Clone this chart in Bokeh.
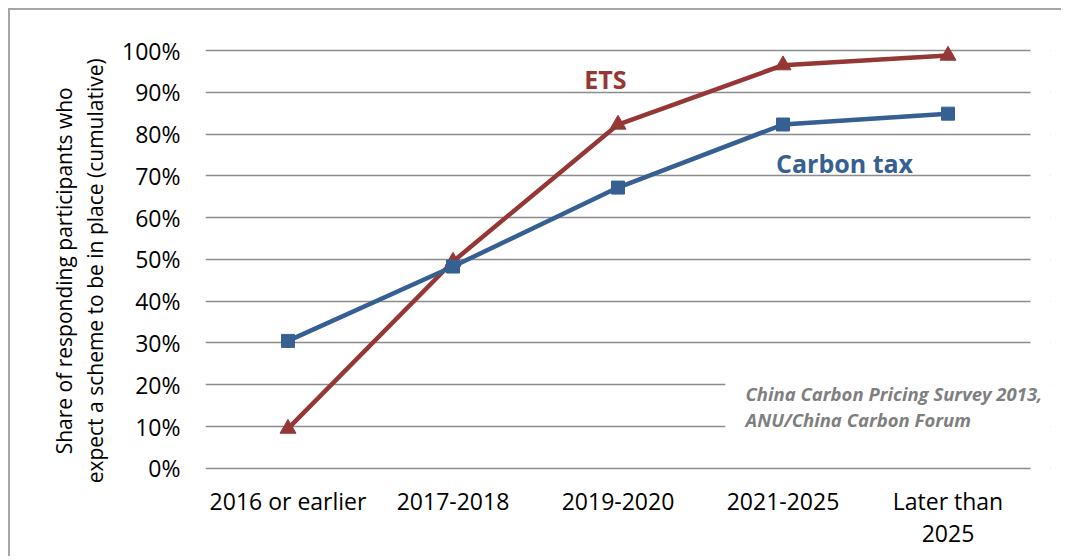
from bokeh.plotting import figure
from bokeh.models import Range1d, FixedTicker, NumeralTickFormatter, Label, BoxAnnotation
from bokeh.embed import file_html
from bokeh.resources import INLINE

categories = ["2016 or earlier", "2017-2018", "2019-2020", "2021-2025", "Later than\n2025"]
ets = [0.095, 0.495, 0.823, 0.965, 0.988]
carbon_tax = [0.305, 0.483, 0.672, 0.823, 0.849]
y_ticks = [0.0, 0.1, 0.2, 0.3, 0.4, 0.5, 0.6, 0.7, 0.8, 0.9, 1.0]

ETS_COLOR = "#953735"
TAX_COLOR = "#376092"
FONT = "Open Sans"
NB = "\u00a0" * 8  # trailing pad so the rotated title sits lower, as in the original

xs = list(range(len(categories)))
n = len(categories)

p = figure(width=1053, height=548, output_backend="svg", toolbar_location=None,
           x_range=Range1d(-0.5, n - 0.5 + 20 / 165), y_range=Range1d(-0.01, 1.06),
           min_border_left=195, min_border_right=13, min_border_top=15, min_border_bottom=86)
p.styles = {"margin-left": "8px", "margin-top": "8px",
            "border-top": "2px solid #a6a6a6", "border-left": "2px solid #a6a6a6"}
p.outline_line_color = None
p.background_fill_color = "white"
p.border_fill_color = "white"

# axes
p.xaxis.ticker = FixedTicker(ticks=xs)
p.xaxis.major_label_overrides = {i: c for i, c in zip(xs, categories)}
p.yaxis.ticker = FixedTicker(ticks=y_ticks)
p.yaxis.formatter = NumeralTickFormatter(format="0%")
for ax in (p.xaxis[0], p.yaxis[0]):
    ax.axis_line_color = None
    ax.major_tick_line_color = None
    ax.minor_tick_line_color = None
    ax.major_tick_out = 0
    ax.major_tick_in = 0
    ax.major_label_text_font = FONT
    ax.major_label_text_font_size = "23px"
    ax.major_label_text_color = "black"
    ax.major_label_text_line_height = 1.0
p.yaxis.major_label_standoff = 25
p.xaxis.major_label_standoff = 12
p.yaxis.axis_label = ("Share of responding participants who" + NB + "\n"
                      "expect a scheme to be in place (cumulative)" + NB)
p.yaxis.axis_label_text_font = FONT
p.yaxis.axis_label_text_font_size = "21px"
p.yaxis.axis_label_text_font_style = "normal"
p.yaxis.axis_label_text_color = "black"
p.yaxis.axis_label_text_line_height = 1.1
p.yaxis.axis_label_standoff = 10

# grid
p.xgrid.grid_line_color = None
p.ygrid.ticker = FixedTicker(ticks=y_ticks)
p.ygrid.grid_line_color = "#8c8c8c"
p.ygrid.grid_line_width = 1.6

# series
p.line(xs, ets, line_color=ETS_COLOR, line_width=4.5)
p.scatter(xs, ets, marker="triangle", size=16, fill_color=ETS_COLOR, line_color=ETS_COLOR)
p.line(xs, carbon_tax, line_color=TAX_COLOR, line_width=4.5)
p.scatter(xs, carbon_tax, marker="square", size=13, fill_color=TAX_COLOR, line_color=TAX_COLOR)

# series labels
p.add_layout(Label(x=1.924, y=0.933, text="ETS", text_font=FONT, text_font_size="25px",
                   text_font_style="bold", text_color=ETS_COLOR,
                   text_align="center", text_baseline="middle"))
p.add_layout(Label(x=3.373, y=0.732, text="Carbon tax", text_font=FONT, text_font_size="25px",
                   text_font_style="bold", text_color=TAX_COLOR,
                   text_align="center", text_baseline="middle"))

# plot-area edge (gridlines stop at the last category band) and source note box
p.add_layout(BoxAnnotation(left=n - 0.5, fill_color="white", fill_alpha=1.0, line_color=None))
p.add_layout(BoxAnnotation(left=2.65, bottom=0.06, top=0.25,
                           fill_color="white", fill_alpha=1.0, line_color=None))
p.add_layout(Label(x=2.773, y=0.179, text="China Carbon Pricing Survey 2013,", text_font=FONT,
                   text_font_size="18.5px", text_font_style="bold italic", text_color="#7f7f7f",
                   text_align="left", text_baseline="middle"))
p.add_layout(Label(x=2.773, y=0.117, text="ANU/China Carbon Forum", text_font=FONT,
                   text_font_size="18.5px", text_font_style="bold italic", text_color="#7f7f7f",
                   text_align="left", text_baseline="middle"))

open("out.html", "w").write(file_html(p, INLINE))
